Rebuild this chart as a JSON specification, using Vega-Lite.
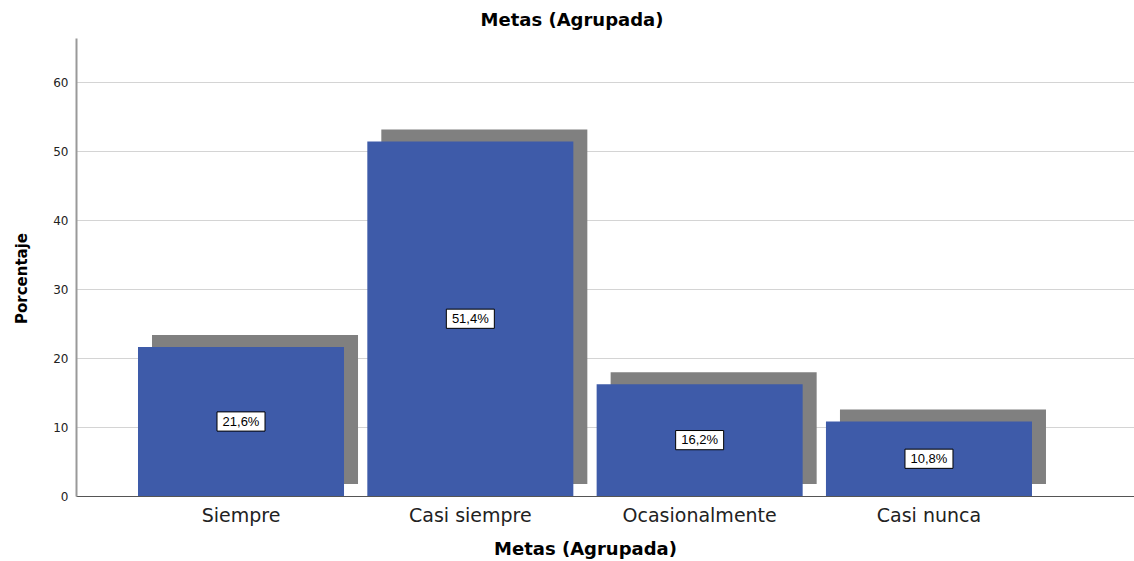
{
  "$schema": "https://vega.github.io/schema/vega-lite/v6.json",
  "width": 1058,
  "height": 458,
  "autosize": {"type": "none"},
  "padding": {"left": 76, "top": 38, "right": 0, "bottom": 65},
  "background": "white",
  "config": {"view": {"stroke": null}, "font": "DejaVu Sans"},
  "title": {"text": "Metas (Agrupada)", "fontSize": 18, "fontWeight": "bold", "font": "DejaVu Sans", "color": "black", "frame": "group", "anchor": "middle", "dx": -33, "offset": 8},
  "data": {"values": [
    {"cat": "Siempre", "pct": 21.6, "label": "21,6%"},
    {"cat": "Casi siempre", "pct": 51.4, "label": "51,4%"},
    {"cat": "Ocasionalmente", "pct": 16.2, "label": "16,2%"},
    {"cat": "Casi nunca", "pct": 10.8, "label": "10,8%"}
  ]},
  "encoding": {
    "x": {"field": "cat", "type": "nominal", "sort": null,
      "scale": {"paddingInner": 0.1016, "paddingOuter": 0.3576, "align": 0.378},
      "axis": {"title": "Metas (Agrupada)", "labelAngle": 0, "labelFont": "DejaVu Sans", "labelFontSize": 19, "labelColor": "#222", "labelPadding": 10, "ticks": false, "domainColor": "#555", "domainWidth": 1, "titleFont": "DejaVu Sans", "titleFontSize": 18, "titleFontWeight": "bold", "titleColor": "black", "titlePadding": 15, "titleX": 509, "titleAlign": "center"}}
  },
  "layer": [
    {
      "mark": {"type": "bar", "color": "#808080", "xOffset": 14, "yOffset": -12},
      "encoding": {"y": {"field": "pct", "type": "quantitative", "scale": {"domain": [0, 66.4], "nice": false}, "axis": null}}
    },
    {
      "mark": {"type": "bar", "color": "#3E5BA9"},
      "encoding": {"y": {"field": "pct", "type": "quantitative", "scale": {"domain": [0, 66.4], "nice": false},
        "axis": {"title": "Porcentaje", "grid": true, "values": [0, 10, 20, 30, 40, 50, 60], "ticks": false, "labelFont": "DejaVu Sans", "labelFontSize": 12, "labelColor": "#222", "labelPadding": 8, "domainColor": "#999", "domainWidth": 2, "gridColor": "#d4d4d4", "gridWidth": 1, "titleFont": "DejaVu Sans", "titleFontSize": 15, "titleFontWeight": "bold", "titleColor": "black", "titlePadding": 23, "titleY": 240}}}
    },
    {
      "mark": {"type": "point", "shape": "M-1,-0.4H1V0.4H-1Z", "size": 2304, "filled": true, "fill": "white", "stroke": "black", "strokeWidth": 1, "opacity": 1},
      "encoding": {"y": {"field": "pct", "type": "quantitative", "scale": {"domain": [0, 132.8], "nice": false}, "axis": null}}
    },
    {
      "mark": {"type": "text", "font": "Liberation Sans", "fontSize": 13, "color": "black", "baseline": "middle", "align": "center"},
      "encoding": {
        "y": {"field": "pct", "type": "quantitative", "scale": {"domain": [0, 132.8], "nice": false}, "axis": null},
        "text": {"field": "label"}
      }
    }
  ],
  "resolve": {"scale": {"y": "independent"}}
}
